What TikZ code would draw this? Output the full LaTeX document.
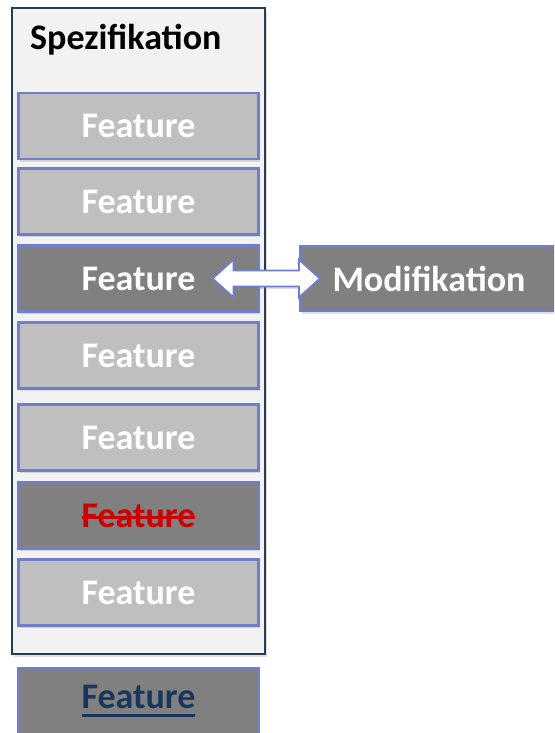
\documentclass[tikz,border=0pt]{standalone}
\usepackage{fontspec}
\setmainfont{Carlito}
\usetikzlibrary{shadows,calc}
\definecolor{featlight}{RGB}{191,191,191}
\definecolor{featdark}{RGB}{128,128,128}
\definecolor{featline}{RGB}{112,126,204}
\definecolor{specline}{RGB}{38,60,80}
\definecolor{specfill}{RGB}{242,242,242}
\definecolor{strikered}{RGB}{204,0,0}
\definecolor{navytext}{RGB}{23,55,94}
\newcommand\strikeword[1]{\setbox0=\hbox{#1}\rlap{\vrule height 0.30em depth -0.22em width \wd0}\box0}
\newcommand\underword[1]{\setbox0=\hbox{#1}\rlap{\vrule height -0.18em depth 0.26em width \wd0}\box0}
\tikzstyle{soft shadow}=[drop shadow={shadow xshift=1.5pt,shadow yshift=-2.5pt,opacity=0.25}]
\tikzstyle{feature}=[draw=featline,line width=2.2pt,fill=featlight,minimum width=240pt,minimum height=66pt,text=white,font=\fontsize{36}{40}\selectfont\bfseries,soft shadow]
\tikzstyle{feature dark}=[feature,fill=featdark]
\tikzstyle{arrowbox}=[draw=featline,line width=1.8pt,fill=white,line join=miter,soft shadow]

\begin{document}
\begin{tikzpicture}[x=1pt,y=-1pt]
		\useasboundingbox (0,0) rectangle (554,733);
		\clip (0,0) rectangle (554,733);

		% Spezifikation
		\node[draw=specline,line width=2pt,fill=specfill,minimum width=253pt,minimum height=646pt,soft shadow] (spec) at (138.5,331) {};
		\node[anchor=base west,inner sep=0pt,font=\fontsize{36}{40}\selectfont\bfseries] (spectitle) at (30,50) {Spezifikation};

		\node[feature] (f1) at (138.5,126) {Feature};
		\node[feature] (f2) at (138.5,201.5) {Feature};
		\node[feature dark] (f3) at (138.5,278.5) {Feature};
		\node[feature] (f4) at (138.5,355.5) {Feature};
		\node[feature] (f5) at (138.5,437.5) {Feature};
		\node[feature dark,text=strikered] (f6) at (138.5,515.5) {\strikeword{Feature}};
		\node[feature] (f7) at (138.5,592.5) {Feature};

		\node[feature dark,text=navytext] (fnew) at (138.5,701) {\underword{Feature}};

		% Modifikation
		\node[feature dark,minimum width=258pt,minimum height=65pt] (mod) at (429,278.5) {Modifikation};

		\coordinate (lt) at ($(f3.east)+(-47,0)$);
		\coordinate (rt) at ($(mod.west)+(21,0)$);
		\draw[arrowbox]
			(lt) -- ++(21,-19) -- ++(0,11) -- ($(rt)+(-21,-8)$) -- ++(0,-11) --
			(rt) -- ++(-21,19) -- ++(0,-11) -- ($(lt)+(21,8)$) -- ++(0,11) -- cycle
		;
\end{tikzpicture}
\end{document}
